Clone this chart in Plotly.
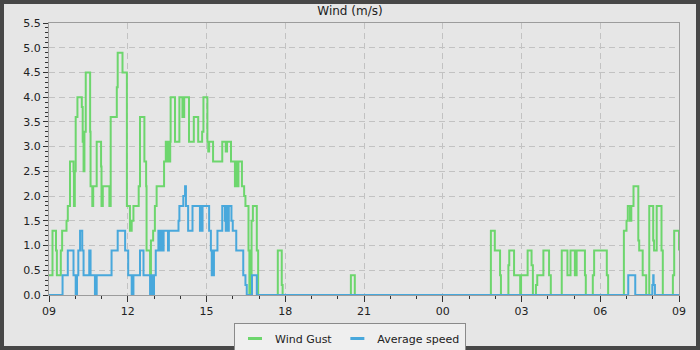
import pandas as pd
import plotly.graph_objects as go

START = pd.Timestamp("2024-05-10 09:00")

# Wind gust: minutes after 09:00 where value changes, and value (m/s)
gust_min = [0, 8, 16, 18, 27, 30, 40, 43, 48, 56, 57, 59, 61, 65, 75, 77, 79, 81, 84, 94, 95, 99, 101, 109,
            119, 120, 123, 138, 141, 155, 157, 168, 178, 185, 189, 193, 205, 208, 218, 222, 223, 231, 233, 238,
            242, 246, 263, 267, 270, 272, 274, 277, 278, 288, 298, 305, 309, 320, 331, 341, 350, 353, 362, 364,
            366, 375, 396, 404, 407, 416, 425, 427, 429, 433, 441, 446, 449, 456, 458, 460, 462, 463, 466, 475,
            478, 523, 532, 534, 690, 699, 1010, 1019, 1031, 1033, 1050, 1052, 1063, 1077, 1079, 1094, 1103, 1106,
            1113, 1116, 1130, 1143, 1147, 1172, 1185, 1192, 1202, 1206, 1225, 1227, 1243, 1246, 1275, 1278, 1314,
            1320, 1323, 1328, 1331, 1336, 1347, 1349, 1357, 1365, 1372, 1381, 1383, 1389, 1400, 1403, 1426, 1429,
            1440]
gust_val = [0.4, 1.3, 0.9, 0.4, 0.9, 1.3, 1.5, 1.8, 2.7, 2.5, 1.8, 2.5, 3.6, 4.0, 3.8, 3.1, 2.5, 3.3, 4.5, 3.3,
            2.2, 1.8, 2.2, 3.1, 2.6, 1.8, 2.2, 1.8, 3.6, 4.2, 4.9, 4.5, 1.8, 1.3, 1.5, 1.8, 2.2, 3.6, 2.7, 2.2,
            0.9, 0.4, 1.1, 1.3, 1.8, 2.2, 2.7, 3.1, 2.7, 3.1, 2.7, 3.1, 4.0, 3.1, 4.0, 3.6, 4.0, 3.1, 3.6, 3.1,
            3.3, 4.0, 3.1, 2.9, 3.1, 2.7, 3.1, 2.9, 3.1, 2.7, 2.2, 2.7, 2.2, 2.7, 2.2, 2.0, 1.8, 0.9, 0.0, 0.9,
            0.0, 1.5, 1.8, 0.9, 0.0, 0.9, 0.2, 0.0, 0.4, 0.0, 1.3, 0.9, 0.4, 0.0, 0.6, 0.9, 0.4, 0.0, 0.4, 0.9,
            0.6, 0.0, 0.2, 0.4, 0.9, 0.4, 0.0, 0.9, 0.4, 0.9, 0.4, 0.9, 0.4, 0.0, 0.4, 0.9, 0.4, 0.0, 1.3, 1.5,
            1.8, 1.5, 1.8, 2.2, 1.1, 0.9, 0.4, 0.0, 1.8, 1.1, 0.9, 1.8, 0.9, 0.0, 0.4, 1.3, 0.9]

# Average speed
avg_min = [0, 31, 43, 56, 61, 64, 67, 71, 76, 79, 92, 95, 105, 109, 143, 157, 174, 181, 189, 193, 208, 216, 231,
           234, 236, 240, 244, 250, 252, 256, 259, 262, 272, 274, 296, 298, 307, 311, 313, 318, 328,
           345, 347, 349, 351, 366, 370, 372, 374, 376, 377, 385, 396, 402, 404, 406, 410, 411, 417, 420, 428,
           444, 449, 452, 464, 475, 1324, 1340, 1379, 1381, 1382, 1385, 1440]
avg_val = [0.0, 0.4, 0.9, 0.4, 0.0, 0.4, 0.9, 1.3, 0.9, 0.4, 0.9, 0.4, 0.0, 0.4, 0.9, 1.3, 0.9, 0.4, 0.0, 0.4,
           0.9, 0.4, 0.0, 0.4, 0.0, 0.4, 0.9, 1.3, 0.9, 1.3, 0.9, 1.3, 0.9, 1.3, 1.5, 1.8, 2.0, 2.2,
           1.8, 1.3, 1.8, 1.3, 1.8, 1.3, 1.8, 1.3, 0.9, 0.4, 0.9, 0.4, 0.9, 1.3, 1.8, 1.5, 1.3, 1.8, 1.3, 1.8,
           1.5, 1.3, 0.9, 0.4, 0.2, 0.0, 0.4, 0.0, 0.4, 0.0, 0.2, 0.4, 0.2, 0.0, 0.0]

series_names = ["Wind Gust", "Average speed"]
colors = ["#6dd66d", "#48a8dc"]
title_text = "Wind (m/s)"


def to_time(mins):
    return [START + pd.Timedelta(minutes=m) for m in mins]


fig = go.Figure()
for xs, ys, col in [(gust_min, gust_val, colors[0]), (avg_min, avg_val, colors[1])]:
    fig.add_trace(go.Scatter(x=to_time(xs), y=ys, mode="lines", line=dict(color=col, width=2, shape="hv"),
                             showlegend=False, hoverinfo="skip"))
# legend entries (short dash symbols)
for name, col in zip(series_names, colors):
    fig.add_trace(go.Scatter(x=[None], y=[None], mode="markers", name=name,
                             marker=dict(symbol="line-ew-open", size=10, color=col,
                                         line=dict(color=col, width=3))))

W, H = 700, 350
ml, mr, mt, mb = 49, 21, 23, 55
pw, ph = W - ml - mr, H - mt - mb

fig.update_layout(
    width=W, height=H,
    margin=dict(l=ml, r=mr, t=mt, b=mb, pad=0, autoexpand=False),
    paper_bgcolor="#e6e6e6", plot_bgcolor="#e6e6e6",
    font=dict(family="DejaVu Sans", size=11, color="#222222"),
    title=dict(text=title_text, x=0.5, xref="container", xanchor="center",
               y=1 - 11 / H, yref="container", yanchor="middle",
               font=dict(size=12, color="#222222")),
    legend=dict(orientation="h", xref="container", x=0.5, xanchor="center",
                yref="container", y=1 - 323 / H, yanchor="top",
                bgcolor="#efefef", bordercolor="#8a8a8a", borderwidth=1,
                font=dict(size=11), itemwidth=30, tracegroupgap=0),
    showlegend=True,
)
fig.update_xaxes(
    type="date", range=[START, START + pd.Timedelta(hours=24)],
    tick0=START, dtick=3 * 3600000, tickformat="%H",
    ticks="outside", ticklen=6, tickcolor="#333333", tickwidth=1,
    showline=True, linecolor="#9c9c9c", linewidth=1, mirror=True,
    showgrid=True, gridcolor="#c2c2c2", griddash="6px,4px", gridwidth=1,
    zeroline=False,
    minor=dict(dtick=3600000, ticks="outside", ticklen=3, tickcolor="#333333", showgrid=False),
)
fig.update_yaxes(
    range=[0, 5.5], dtick=0.5, tick0=0, tickformat=".1f",
    ticks="outside", ticklen=5, tickcolor="#333333", tickwidth=1,
    showline=True, linecolor="#9c9c9c", linewidth=1, mirror=True,
    showgrid=True, gridcolor="#c2c2c2", griddash="6px,4px", gridwidth=1,
    zeroline=False,
    minor=dict(dtick=0.1, ticks="outside", ticklen=3, tickcolor="#333333", showgrid=False),
)

# dark outer frame around the whole picture
fig.add_shape(type="rect", xref="paper", yref="paper",
              x0=-ml / pw, x1=1 + mr / pw, y0=-mb / ph, y1=1 + mt / ph,
              line=dict(color="#474747", width=8), fillcolor="rgba(0,0,0,0)", layer="above")

fig.write_html("out.html")
